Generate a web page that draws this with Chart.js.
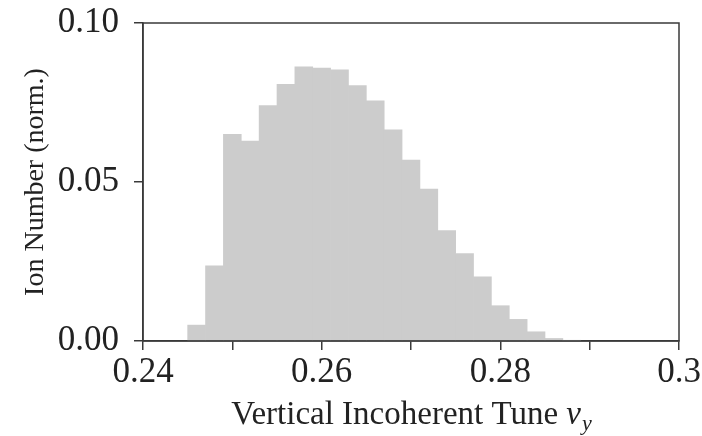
<!DOCTYPE html>
<html>
<head>
<meta charset="utf-8">
<script src="https://cdn.jsdelivr.net/npm/chart.js@4"></script>
<style>
  html, body { margin: 0; padding: 0; background: #fff; }
  #wrap { width: 702px; height: 436px; }
</style>
</head>
<body>
<div id="wrap"><canvas id="myChart" width="702" height="436"></canvas></div>
<script>
// histogram bins (left edges), width 0.002
const binEdges = [0.245, 0.247, 0.249, 0.251, 0.253, 0.255, 0.257, 0.259, 0.261, 0.263, 0.265,
                  0.267, 0.269, 0.271, 0.273, 0.275, 0.277, 0.279, 0.281, 0.283, 0.285, 0.287];
const binWidth = 0.002;
const ionCounts = [0.005, 0.0236, 0.065, 0.0629, 0.074, 0.0807, 0.0862, 0.0858, 0.0853, 0.0803, 0.0755,
                   0.0664, 0.0569, 0.0478, 0.0347, 0.0275, 0.0202, 0.0111, 0.0068, 0.0029, 0.0008, 0.0002];

const xTicks = [0.24, 0.25, 0.26, 0.27, 0.28, 0.29, 0.30];
const xTickLabels = ['0.24', '', '0.26', '', '0.28', '', '0.3'];
const yTicks = [0, 0.05, 0.10];
const yTickLabels = ['0.00', '0.05', '0.10'];

const serif = "'Liberation Serif', 'DejaVu Serif', serif";
const axisColor = '#3a3a3a';

const points = binEdges.map((e, i) => ({ x: e + binWidth / 2, y: ionCounts[i] }));

// box around the plot + x title with subscript
const framePlugin = {
    id: 'frame',
    afterDraw(chart) {
        const { ctx, chartArea } = chart;
        ctx.save();
        ctx.strokeStyle = axisColor;
        ctx.lineWidth = 1.5;
        ctx.strokeRect(chartArea.left, chartArea.top, chartArea.width, chartArea.height);

        // x axis title: "Vertical Incoherent Tune ν_y"
        const main = 'Vertical Incoherent Tune ';
        ctx.fillStyle = '#222';
        ctx.textBaseline = 'alphabetic';
        ctx.font = '33px ' + serif;
        const w1 = ctx.measureText(main).width;
        ctx.font = 'italic 33px ' + serif;
        const w2 = ctx.measureText('ν').width;
        ctx.font = 'italic 22px ' + serif;
        const w3 = ctx.measureText('y').width;
        const total = w1 + w2 + w3;
        let x = (chartArea.left + chartArea.right) / 2 - total / 2;
        const base = 424;
        ctx.font = '33px ' + serif;
        ctx.fillText(main, x, base);
        x += w1;
        ctx.font = 'italic 33px ' + serif;
        ctx.fillText('ν', x, base);
        x += w2 + 1;
        ctx.font = 'italic 22px ' + serif;
        ctx.fillText('y', x, base + 6);
        ctx.restore();
    }
};

const ctx = document.getElementById('myChart');

new Chart(ctx, {
    type: 'bar',
    data: {
        datasets: [{
            data: points,
            backgroundColor: '#cccccc',
            borderWidth: 0,
            barPercentage: 1.0,
            categoryPercentage: 1.0
        }]
    },
    options: {
        responsive: false,
        animation: false,
        layout: { padding: { top: 23, right: 23, left: 0, bottom: 0 } },
        plugins: { legend: { display: false }, tooltip: { enabled: false } },
        scales: {
            x: {
                type: 'linear',
                min: 0.24,
                max: 0.30,
                offset: false,
                afterBuildTicks: (scale) => { scale.ticks = xTicks.map(v => ({ value: v })); },
                afterFit: (scale) => {
                    scale.height = 95;
                    scale.paddingLeft = 0;
                    scale.paddingRight = 0;
                },
                ticks: {
                    color: '#222',
                    font: { family: serif, size: 35 },
                    padding: 2,
                    maxRotation: 0,
                    autoSkip: false,
                    callback: (v, i) => xTickLabels[i]
                },
                grid: {
                    drawOnChartArea: false,
                    drawTicks: true,
                    tickLength: 9,
                    color: axisColor,
                    lineWidth: 1.5,
                    offset: false
                },
                border: { display: true, color: axisColor, width: 1.5 }
            },
            y: {
                min: 0,
                max: 0.10,
                afterBuildTicks: (scale) => { scale.ticks = yTicks.map(v => ({ value: v })); },
                afterFit: (scale) => {
                    scale.width = 143;
                    scale.paddingTop = 0;
                    scale.paddingBottom = 0;
                },
                ticks: {
                    color: '#222',
                    font: { family: serif, size: 35 },
                    padding: 15,
                    callback: (v, i) => yTickLabels[i]
                },
                grid: {
                    drawOnChartArea: false,
                    drawTicks: true,
                    tickLength: 9,
                    color: axisColor,
                    lineWidth: 1.5
                },
                border: { display: true, color: axisColor, width: 1.5 },
                title: {
                    display: true,
                    text: 'Ion Number (norm.)',
                    color: '#222',
                    font: { family: serif, size: 28, lineHeight: 1 },
                    padding: { top: 22, bottom: 0 }
                }
            }
        }
    },
    plugins: [framePlugin]
});
</script>
</body>
</html>
